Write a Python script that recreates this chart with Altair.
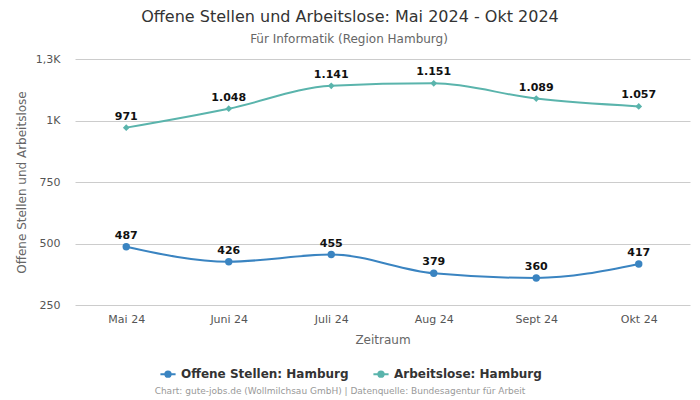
import altair as alt
import pandas as pd

months = ["Mai 24", "Juni 24", "Juli 24", "Aug 24", "Sept 24", "Okt 24"]
offene = [487, 426, 455, 379, 360, 417]
arbeitslose = [971, 1048, 1141, 1151, 1089, 1057]
series_names = ["Offene Stellen: Hamburg", "Arbeitslose: Hamburg"]
colors = ["#3a84c1", "#5ab4ac"]
y_ticks = [250, 500, 750, 1000, 1250]

def de_fmt(v):
    return f"{v:,}".replace(",", ".")

rows = []
for m, v in zip(months, offene):
    rows.append({"Monat": m, "Wert": v, "Serie": series_names[0], "Label": de_fmt(v)})
for m, v in zip(months, arbeitslose):
    rows.append({"Monat": m, "Wert": v, "Serie": series_names[1], "Label": de_fmt(v)})
df = pd.DataFrame(rows)

circle_sym = "M-1,0L1,0M-0.35,0A0.35,0.35 0 1,1 0.35,0A0.35,0.35 0 1,1 -0.35,0Z"

x = alt.X("Monat:N", sort=months, scale=alt.Scale(type="point", padding=0.5),
          axis=alt.Axis(title="Zeitraum", labelAngle=0, labelColor="#555", labelFontSize=11,
                        titleColor="#666", titleFontSize=12, titleFontWeight="normal",
                        domain=False, ticks=False, grid=False, labelPadding=8, titlePadding=10,
                        labelFont="DejaVu Sans", titleFont="DejaVu Sans"))
y = alt.Y("Wert:Q", scale=alt.Scale(domain=[250, 1250], nice=False, zero=False),
          axis=alt.Axis(title="Offene Stellen und Arbeitslose", values=y_ticks,
                        labelExpr="datum.value >= 1000 ? replace(format(datum.value/1000, '.1~f'), '.', ',') + 'K' : datum.value",
                        labelColor="#555", labelFontSize=11, titleColor="#666", titleFontSize=12,
                        titleFontWeight="normal", domain=False, ticks=False, labelPadding=15,
                        gridColor="#cccccc", titlePadding=7,
                        labelFont="DejaVu Sans", titleFont="DejaVu Sans"))

color = alt.Color("Serie:N", sort=series_names,
                  scale=alt.Scale(domain=series_names, range=colors),
                  legend=alt.Legend(title=None, orient="none", direction="horizontal",
                                    legendX=84, legendY=306, labelLimit=400,
                                    symbolType=circle_sym, symbolSize=230,
                                    symbolStrokeWidth=2, labelFontSize=12,
                                    labelFontWeight="bold", labelColor="#333",
                                    labelFont="DejaVu Sans", columnPadding=20))

base = alt.Chart(df)

lines = base.mark_line(interpolate="monotone", strokeWidth=2).encode(x=x, y=y, color=color)

pts_o = base.transform_filter(alt.datum.Serie == series_names[0]).mark_point(
    shape="circle", filled=True, size=55, opacity=1).encode(
    x=x, y=y, color=alt.Color("Serie:N", scale=alt.Scale(domain=series_names, range=colors), legend=None))
pts_a = base.transform_filter(alt.datum.Serie == series_names[1]).mark_point(
    shape="diamond", filled=True, size=45, opacity=1).encode(
    x=x, y=y, color=alt.Color("Serie:N", scale=alt.Scale(domain=series_names, range=colors), legend=None))

labels = base.mark_text(dy=-11, fontSize=11, fontWeight="bold", color="#111",
                        font="DejaVu Sans").encode(x=x, y=y, text="Label:N")

title_df = pd.DataFrame({"t": ["Offene Stellen und Arbeitslose: Mai 2024 - Okt 2024"]})
title = alt.Chart(title_df).mark_text(fontSize=16, color="#333", font="DejaVu Sans").encode(
    x=alt.value(275), y=alt.value(-42), text="t:N")
sub_df = pd.DataFrame({"t": ["Für Informatik (Region Hamburg)"]})
subtitle = alt.Chart(sub_df).mark_text(fontSize=12, color="#666", font="DejaVu Sans").encode(
    x=alt.value(274), y=alt.value(-20), text="t:N")
foot_df = pd.DataFrame({"t": ["Chart: gute-jobs.de (Wollmilchsau GmbH) | Datenquelle: Bundesagentur für Arbeit"]})
footer = alt.Chart(foot_df).mark_text(fontSize=9, color="#999", font="DejaVu Sans").encode(
    x=alt.value(265), y=alt.value(332), text="t:N")

chart = alt.layer(lines, pts_o, pts_a, labels, title, subtitle, footer).properties(
    width=615, height=246, autosize="none",
    padding={"left": 67, "top": 51, "right": 2, "bottom": 91},
).configure(background="white").configure_view(stroke=None)

chart.save("out.html", embed_options={"renderer": "svg", "actions": False})
